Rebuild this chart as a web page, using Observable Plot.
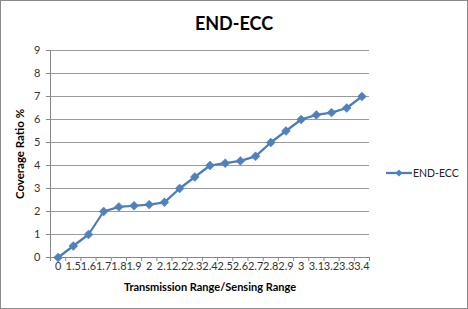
<!DOCTYPE html>
<html>
<head>
<meta charset="utf-8">
<script src="https://cdn.jsdelivr.net/npm/d3@7"></script>
<script src="https://cdn.jsdelivr.net/npm/@observablehq/plot@0.6"></script>
<style>
  html, body { margin: 0; padding: 0; background: #fff; }
  #fig { position: relative; width: 466px; height: 307px; border: 1px solid #8a8a8a; background: #fff; font-family: Lato, "Open Sans", sans-serif; overflow: hidden; }
  #title { position: absolute; left: 0; top: 11px; width: 466px; text-align: center; font-weight: bold; font-size: 18px; line-height: 22px; color: #000; }
  #legend { position: absolute; left: 384px; top: 165px; font-size: 10.5px; line-height: 14px; color: #222; display: flex; align-items: center; }
  #plot { position: absolute; left: 0; top: 0; }
</style>
</head>
<body>
<div id="fig">
  <div id="plot"></div>
  <div id="title">END-ECC</div>
  <div id="legend"></div>
</div>
<script>
const chartTitle = "END-ECC";
const seriesName = "END-ECC";
const xLabels = ["0","1.5","1.6","1.7","1.8","1.9","2","2.1","2.2","2.3","2.4","2.5","2.6","2.7","2.8","2.9","3","3.1","3.2","3.3","3.4"];
const coverage = [0, 0.5, 1, 2, 2.2, 2.25, 2.3, 2.4, 3, 3.5, 4, 4.1, 4.2, 4.4, 5, 5.5, 6, 6.2, 6.3, 6.5, 7];
const yTicks = [0,1,2,3,4,5,6,7,8,9];
const xTitle = "Transmission Range/Sensing Range";
const yTitle = "Coverage Ratio %";

const lineColor = "#4a7ebb";
const data = xLabels.map((lab, i) => ({i, lab, v: coverage[i]}));
const idx = xLabels.map((_, i) => i);
const bounds = d3.range(-0.5, xLabels.length, 1);
const axisGray = "#868686";

const chart = Plot.plot({
  width: 466,
  height: 307,
  marginLeft: 49,
  marginRight: 98,
  marginTop: 49,
  marginBottom: 51,
  style: {fontFamily: "Lato, 'Open Sans', sans-serif", fontSize: "11px", background: "transparent", color: "#333"},
  x: {type: "linear", domain: [-0.5, xLabels.length - 0.5]},
  y: {domain: [0, 9]},
  marks: [
    Plot.gridY(yTicks.slice(1), {stroke: "#9a9a9a", strokeOpacity: 1}),
    Plot.ruleX([-0.5], {stroke: axisGray}),
    Plot.ruleY([0], {stroke: axisGray}),
    Plot.axisY(yTicks, {tickSize: 4, tickPadding: 6, stroke: axisGray, fill: "#333", label: null}),
    Plot.axisY({ticks: [], label: yTitle, labelAnchor: "center", labelArrow: "none", labelOffset: 35, fontWeight: "bold", fontSize: 11.5, fill: "#000"}),
    Plot.axisX(bounds, {tickSize: 4, tickFormat: () => "", stroke: axisGray, label: null}),
    Plot.axisX(idx, {tickSize: 0, tickPadding: 5, tickFormat: i => xLabels[i], fill: "#333", label: null}),
    Plot.axisX({ticks: [], label: xTitle, labelAnchor: "center", labelArrow: "none", labelOffset: 33, fontWeight: "bold", fill: "#000"}),
    Plot.line(data, {x: "i", y: "v", stroke: lineColor, strokeWidth: 2.25}),
    Plot.dot(data, {x: "i", y: "v", symbol: "diamond2", r: 4, fill: "#4f81bd", stroke: "#4f81bd", strokeWidth: 0.5})
  ]
});
document.getElementById("plot").appendChild(chart);
document.getElementById("title").textContent = chartTitle;

const lg = document.getElementById("legend");
const sw = d3.create("svg").attr("width", 28).attr("height", 12);
sw.append("line").attr("x1", 1).attr("x2", 27).attr("y1", 6).attr("y2", 6).attr("stroke", lineColor).attr("stroke-width", 2.25);
sw.append("path").attr("d", d3.symbol(d3.symbolDiamond2, 30)()).attr("transform", "translate(14,6)").attr("fill", "#4f81bd");
lg.appendChild(sw.node());
const t = document.createElement("span");
t.textContent = seriesName;
lg.appendChild(t);
</script>
</body>
</html>
